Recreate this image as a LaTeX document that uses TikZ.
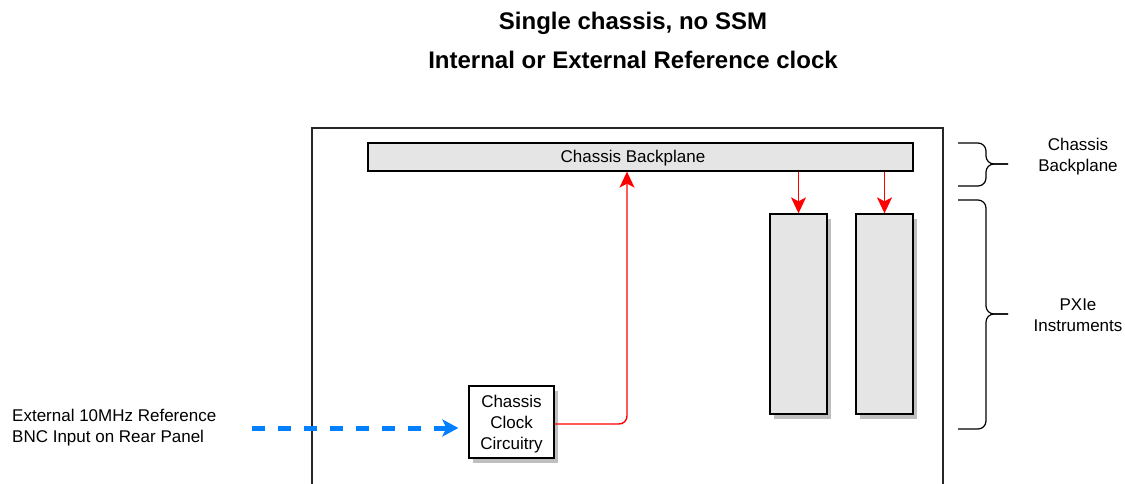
\documentclass[tikz,border=0pt]{standalone}
\usepackage{fontspec}
\setmainfont{Liberation Sans}
\usetikzlibrary{arrows.meta,shadows}
\definecolor{refblue}{RGB}{0,128,255}

\begin{document}
\begin{tikzpicture}[x=1pt,y=-1pt,
    card/.style ={rectangle, draw, line width=1.3pt, fill=black!10, inner sep=0pt,
      drop shadow={shadow xshift=4pt, shadow yshift=-4.5pt, fill=black!25, opacity=1}},
    rail/.style ={rectangle, draw, line width=1.2pt, fill=black!10, inner sep=0pt},
    txt/.style ={font=\fontsize{17}{21}\selectfont, align=center, inner sep=0pt},
    heading/.style ={font=\fontsize{24}{28}\selectfont\bfseries, inner sep=0pt},
    brace/.style ={line width=1.2pt, rounded corners=8pt},
    clk/.style ={draw=red, line width=1.4pt, -{Stealth[length=16pt,width=15pt,inset=4pt]}},
    ref/.style ={draw=refblue, line width=5pt, dash pattern=on 13pt off 13pt,
      -{Stealth[length=16pt,width=17pt,inset=4pt]}}]
   \useasboundingbox (0,0) rectangle (1125,483);
   % titles
   \node[heading, anchor=base] (title) at (633,29) {Single chassis, no SSM};
   \node[heading, anchor=base] (subtitle) at (633,68) {Internal or External Reference clock};
   % chassis outline
   \draw[line width=1.3pt, black!85] (312,484) |- (943,128) -- (943,484);
   % backplane and cards
   \node[rail, minimum width=545, minimum height=28] (backplane) at (640.5,157) {};
   \node[txt] (railname) at (633,158) {Chassis Backplane};
   \node[card, minimum width=57, minimum height=200] (slotA) at (798.5,314) {};
   \node[card, minimum width=57, minimum height=200] (slotB) at (884.5,314) {};
   \node[card, fill=white, minimum width=85, minimum height=72] (clock) at (511.5,422) {};
   \node[txt] (clockname) at (511.5,424) {Chassis\\Clock\\Circuitry};
   \node[txt, anchor=west, align=left] (extref) at (12,428) {External 10MHz Reference\\BNC Input on Rear Panel};
   % right hand side
   \node[txt] (railtag) at (1078,157) {Chassis\\Backplane};
   \node[txt] (slottag) at (1078,315) {PXIe\\Instruments};
   \draw[brace] (958,143) -| (986,164) -- (1008,164);
   \draw[brace] (958,186) -| (986,164) -- (1008,164);
   \draw[brace] (958,200) -| (986,314) -- (1008,314);
   \draw[brace] (958,429) -| (986,314) -- (1008,314);
   % clock lines
   \coordinate (tap) at (627,424);
   \draw[clk, rounded corners=8pt] ([yshift=-2pt]clock.east) -| (tap |- backplane.south);
   \draw[clk] (backplane.south -| slotA) to (slotA);
   \draw[clk] (backplane.south -| slotB) to (slotB);
   \draw[ref, shorten <=36pt, shorten >=10pt] (extref.east) -- (extref.east -| clock.west);
 \end{tikzpicture}
\end{document}
